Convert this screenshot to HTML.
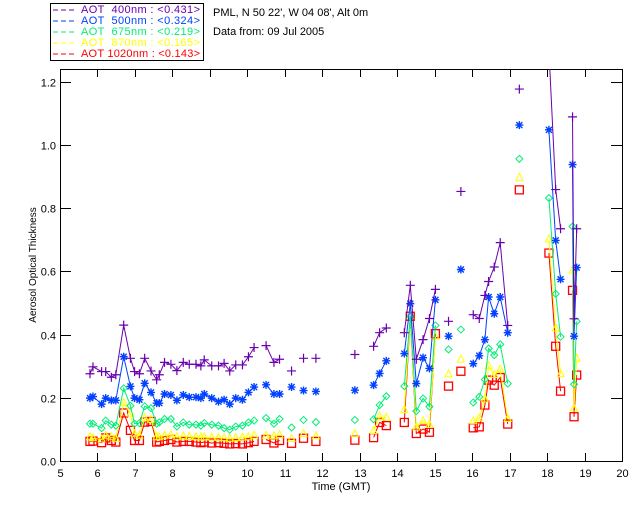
<!DOCTYPE html>
<html><head><meta charset="utf-8"><style>
body{margin:0;background:#fff;}
svg{display:block;font-family:"Liberation Sans",sans-serif;}
</style></head><body>
<svg id="chart" width="640" height="512" viewBox="0 0 640 512" xmlns="http://www.w3.org/2000/svg">
<rect x="0" y="0" width="640" height="512" fill="#fff"/>
<g>
<rect x="50.5" y="3.5" width="153" height="57" fill="none" stroke="#000" stroke-width="1"/>
<g font-size="11">
<line x1="53" y1="10" x2="76" y2="10" stroke="#6a00b0" stroke-dasharray="5,3"/>
<text x="81" y="13" fill="#6a00b0" textLength="119" xml:space="preserve">AOT  400nm : &lt;0.431&gt;</text>
<line x1="53" y1="21" x2="76" y2="21" stroke="#0040ff" stroke-dasharray="5,3"/>
<text x="81" y="24" fill="#0040ff" textLength="119" xml:space="preserve">AOT  500nm : &lt;0.324&gt;</text>
<line x1="53" y1="32" x2="76" y2="32" stroke="#00ee77" stroke-dasharray="5,3"/>
<text x="81" y="35" fill="#00ee77" textLength="119" xml:space="preserve">AOT  675nm : &lt;0.219&gt;</text>
<line x1="53" y1="43" x2="76" y2="43" stroke="#ffff00" stroke-dasharray="5,3"/>
<text x="81" y="46" fill="#ffff00" textLength="119" xml:space="preserve">AOT  870nm : &lt;0.165&gt;</text>
<line x1="53" y1="54" x2="76" y2="54" stroke="#ff0000" stroke-dasharray="5,3"/>
<text x="81" y="57" fill="#ff0000" textLength="119" xml:space="preserve">AOT 1020nm : &lt;0.143&gt;</text>
</g></g>
<text x="213" y="16" font-size="11" fill="#000">PML, N 50 22', W 04 08', Alt 0m</text>
<text x="213" y="35" font-size="11" fill="#000">Data from: 09 Jul 2005</text>
<text transform="translate(36,265) rotate(-90)" text-anchor="middle" font-size="10" fill="#000">Aerosol Optical Thickness</text>
<text x="341" y="490" text-anchor="middle" font-size="11" fill="#000">Time (GMT)</text>
<g id="axes"></g>
<g id="marks"></g>
</svg>
<script>
const times=[5.80,5.88,6.11,6.22,6.37,6.49,6.70,6.88,6.99,7.12,7.26,7.43,7.58,7.65,7.79,7.96,8.12,8.29,8.45,8.63,8.76,8.85,9.05,9.23,9.38,9.53,9.69,9.87,10.03,10.18,10.50,10.71,10.86,11.18,11.50,11.83,
12.87,13.37,13.53,13.71,14.19,14.35,14.51,14.69,14.86,15.02,15.37,15.70,16.03,16.19,16.34,16.44,16.59,16.75,16.95,17.26,18.05,18.23,18.36,18.68,18.72,18.79];
const segments=[1,1,1,1,1,1,1,1,1,1,1,1,1,1,1,1,1,1,1,1,1,1,1,1,1,1,1,1,1,1,2,2,2,3,4,5,
6,7,7,7,8,8,8,8,8,8,9,10,11,11,11,11,11,11,11,12,13,13,13,14,14,14];
const aot400=[0.276,0.298,0.283,0.283,0.265,0.273,0.43,0.325,0.283,0.276,0.325,0.285,0.257,0.273,0.312,0.306,0.286,0.312,0.306,0.306,0.301,0.32,0.301,0.301,0.309,0.285,0.304,0.304,0.33,0.359,0.365,0.312,0.322,0.285,0.325,0.325,
0.337,0.363,0.406,0.421,0.406,0.556,0.322,0.384,0.451,0.543,0.442,0.853,0.463,0.451,0.524,0.568,0.614,0.691,0.429,1.177,1.30,0.859,0.735,1.089,0.45,0.735];
const aot500=[0.199,0.204,0.18,0.199,0.192,0.192,0.33,0.236,0.199,0.194,0.246,0.217,0.183,0.183,0.212,0.209,0.192,0.209,0.202,0.202,0.199,0.212,0.199,0.188,0.194,0.18,0.199,0.194,0.217,0.234,0.241,0.212,0.212,0.234,0.223,0.22,
0.224,0.24,0.277,0.317,0.34,0.498,0.245,0.327,0.293,0.51,0.395,0.606,0.308,0.333,0.384,0.519,0.466,0.519,0.406,1.063,1.048,0.698,0.575,0.938,0.395,0.612];
const aot675=[0.118,0.118,0.104,0.128,0.115,0.112,0.23,0.175,0.118,0.12,0.173,0.167,0.118,0.122,0.133,0.133,0.109,0.122,0.115,0.115,0.112,0.12,0.115,0.112,0.104,0.099,0.109,0.112,0.122,0.128,0.136,0.118,0.133,0.106,0.13,0.123,
0.13,0.132,0.177,0.205,0.237,0.458,0.158,0.198,0.172,0.429,0.353,0.416,0.185,0.203,0.258,0.356,0.335,0.369,0.245,0.956,0.832,0.529,0.393,0.742,0.243,0.442];
const aot870=[0.075,0.072,0.068,0.08,0.075,0.07,0.183,0.15,0.085,0.08,0.135,0.13,0.075,0.075,0.08,0.082,0.075,0.078,0.076,0.075,0.074,0.075,0.074,0.073,0.072,0.07,0.072,0.074,0.075,0.08,0.08,0.078,0.082,0.07,0.085,0.078,
0.085,0.095,0.14,0.137,0.161,0.458,0.106,0.126,0.114,0.393,0.274,0.321,0.126,0.135,0.195,0.3,0.272,0.289,0.133,0.896,0.701,0.419,0.275,0.603,0.166,0.324];
const aot1020=[0.062,0.063,0.058,0.073,0.065,0.06,0.152,0.097,0.065,0.065,0.123,0.125,0.06,0.062,0.065,0.068,0.06,0.062,0.062,0.06,0.058,0.06,0.057,0.058,0.056,0.054,0.055,0.054,0.058,0.062,0.068,0.057,0.065,0.056,0.072,0.062,
0.066,0.074,0.122,0.112,0.122,0.458,0.087,0.101,0.091,0.403,0.237,0.284,0.105,0.108,0.177,0.256,0.24,0.264,0.117,0.858,0.658,0.363,0.221,0.54,0.14,0.272];
const xTicks=[5,6,7,8,9,10,11,12,13,14,15,16,17,18,19,20];
const xTickLabels=["5","6","7","8","9","10","11","12","13","14","15","16","17","18","19","20"];
const yTicks=[0,0.2,0.4,0.6,0.8,1.0,1.2];
const yTickLabels=["0.0","0.2","0.4","0.6","0.8","1.0","1.2"];

const X0=60,X1=622,Y0=461,Y1=69;
function xs(t){return X0+(t-5)*(X1-X0)/15;}
function ys(v){return Y0-v*316;}
const NS="http://www.w3.org/2000/svg";
function mk(tag,attrs,parent){const e=document.createElementNS(NS,tag);for(const k in attrs)e.setAttribute(k,attrs[k]);parent.appendChild(e);return e;}
const axes=document.getElementById('axes');
const frame=mk('rect',{x:X0+.5,y:Y1+.5,width:X1-X0,height:Y0-Y1,fill:'none',stroke:'#000','stroke-width':1},axes);


xTicks.forEach((t,i)=>{
  const x=Math.round(xs(t))+.5;
  mk('line',{x1:x,y1:Y0,x2:x,y2:Y0-8,stroke:'#000'},axes);
  mk('line',{x1:x,y1:Y1,x2:x,y2:Y1+8,stroke:'#000'},axes);
  const tx=mk('text',{x:x,y:Y0+16,'text-anchor':'middle','font-size':11,fill:'#000'},axes);
  tx.textContent=xTickLabels[i];
  
  
});
yTicks.forEach((v,i)=>{
  const y=Math.round(ys(v))+.5;
  mk('line',{x1:X0,y1:y,x2:X0+11,y2:y,stroke:'#000'},axes);
  mk('line',{x1:X1,y1:y,x2:X1-11,y2:y,stroke:'#000'},axes);
  const tx=mk('text',{x:X0-4,y:y+4,'text-anchor':'end','font-size':11,fill:'#000'},axes);
  tx.textContent=yTickLabels[i];
  
  
});
const marks=document.getElementById('marks');
mk('clipPath',{id:'pc'},marks);
mk('rect',{x:X0,y:Y1,width:X1-X0,height:Y0-Y1},marks.lastChild);
const series=[
 {vals:aot1020,col:'#ff0000',m:'sq',name:'series-1020nm'},
 {vals:aot870,col:'#ffff00',m:'tri',name:'series-870nm'},
 {vals:aot675,col:'#00ee77',m:'dia',name:'series-675nm'},
 {vals:aot500,col:'#0040ff',m:'star',name:'series-500nm'},
 {vals:aot400,col:'#6a00b0',m:'plus',name:'series-400nm'}];
series.forEach(s=>{
  const g=mk('g',{'clip-path':'url(#pc)'},marks);
  
  
  let d='';
  for(let i=0;i<times.length;i++){
    const x=xs(times[i]),y=ys(s.vals[i]);
    const cont=i>0&&segments[i]===segments[i-1];
    d+=(cont?'L':'M')+x.toFixed(1)+' '+y.toFixed(1);
  }
  mk('path',{d:d,fill:'none',stroke:s.col,'stroke-width':1},g);
  for(let i=0;i<times.length;i++){
    const x=xs(times[i]),y=ys(s.vals[i]);let e;
    if(s.m==='sq')e=mk('rect',{x:x-4,y:y-4,width:8,height:8,fill:'none',stroke:s.col,'stroke-width':1.3},g);
    else if(s.m==='tri')e=mk('path',{d:`M${x} ${y-4.5}L${x+3.5} ${y+2.5}L${x-3.5} ${y+2.5}Z`,fill:'none',stroke:s.col,'stroke-width':1},g);
    else if(s.m==='dia')e=mk('path',{d:`M${x} ${y-3.5}L${x+3.5} ${y}L${x} ${y+3.5}L${x-3.5} ${y}Z`,fill:'none',stroke:s.col,'stroke-width':1},g);
    else if(s.m==='star')e=mk('path',{d:`M${x-4} ${y}H${x+4}M${x} ${y-4}V${y+4}M${x-3} ${y-3}L${x+3} ${y+3}M${x-3} ${y+3}L${x+3} ${y-3}`,stroke:s.col,'stroke-width':1.4},g);
    else e=mk('path',{d:`M${x-4.5} ${y}H${x+4.5}M${x} ${y-4.5}V${y+4.5}`,stroke:s.col,'stroke-width':1.2},g);
    
    
  }
});
</script>
</body></html>
